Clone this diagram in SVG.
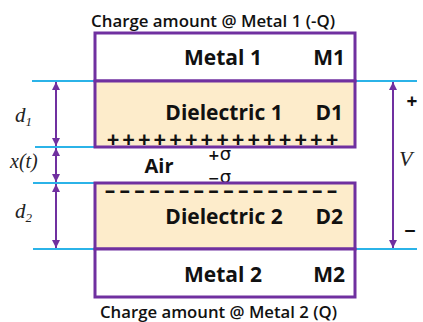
<svg xmlns="http://www.w3.org/2000/svg" width="423" height="322" viewBox="0 0 423 322">
<defs>
<style>
.lbl{font-family:"Open Sans","Liberation Sans",sans-serif;font-weight:700;fill:#111}
.cap{font-family:"Open Sans","Liberation Sans",sans-serif;font-weight:600;font-size:16px;fill:#111}
.sig{font-family:"DejaVu Sans","Noto Sans",sans-serif;font-weight:400;fill:#111}
.math{font-family:"Liberation Serif","DejaVu Serif",serif;font-style:italic;fill:#222}
.box{stroke:#7030A0;stroke-width:3}
.blue{stroke:#2BB3E8;stroke-width:2}
.arr{stroke:#7030A0;stroke-width:2;fill:none}
</style>
<marker id="ah" viewBox="0 0 10 10" refX="10" refY="5" markerWidth="4" markerHeight="4" orient="auto-start-reverse" markerUnits="strokeWidth">
<path d="M0,0 L10,5 L0,10 Z" fill="#7030A0"/>
</marker>
</defs>
<rect width="423" height="322" fill="#fff"/>
<g id="guides">
<line class="blue" x1="32" y1="81" x2="417" y2="81"/>
<line class="blue" x1="35" y1="147" x2="95" y2="147"/>
<line class="blue" x1="33" y1="183" x2="95" y2="183"/>
<line class="blue" x1="33" y1="249" x2="417" y2="249"/>
</g>
<g id="metal1">
<rect class="box" x="95" y="33" width="260" height="48" fill="#fff"/>
<text class="lbl" x="223" y="65" font-size="21" text-anchor="middle">Metal 1</text>
<text class="lbl" x="345" y="65" font-size="21" text-anchor="end">M1</text>
</g>
<g id="dielectric1">
<rect class="box" x="95" y="81" width="260" height="66" fill="#FDECCB"/>
<text class="lbl" x="224" y="120" font-size="21" text-anchor="middle">Dielectric 1</text>
<text class="lbl" x="343" y="120" font-size="21" text-anchor="end">D1</text>
<text class="lbl" font-size="22" font-weight="600" text-anchor="middle" y="146.5" x="113 128.6 144.3 159.9 175.6 191.2 206.9 222.5 238.1 253.8 269.4 285.1 300.7 316.4 332">+++++++++++++++</text>
</g>
<g id="air">
<text class="lbl" x="159" y="173" font-size="20" text-anchor="middle">Air</text>
<text class="sig" x="208" y="160"><tspan font-size="14" font-weight="700">+</tspan><tspan font-size="18">σ</tspan></text>
<text class="sig" x="208" y="182.5"><tspan font-size="14" font-weight="700">−</tspan><tspan font-size="18">σ</tspan></text>
</g>
<g id="dielectric2">
<rect class="box" x="95" y="183" width="260" height="66" fill="#FDECCB"/>
<text class="lbl" font-size="21" text-anchor="middle" y="198" x="110 124.8 139.6 154.4 169.2 184 198.8 213.6 228.4 243.2 258 272.8 287.6 302.4 317.2 332">––––––––––––––––</text>
<text class="lbl" x="224" y="224" font-size="21" text-anchor="middle">Dielectric 2</text>
<text class="lbl" x="343" y="224" font-size="21" text-anchor="end">D2</text>
</g>
<g id="metal2">
<rect class="box" x="95" y="249" width="260" height="48" fill="#fff"/>
<text class="lbl" x="223" y="282" font-size="21" text-anchor="middle">Metal 2</text>
<text class="lbl" x="345" y="282" font-size="21" text-anchor="end">M2</text>
</g>
<g id="captions">
<text class="cap" x="91" y="27" textLength="244" lengthAdjust="spacingAndGlyphs">Charge amount @ Metal 1 (-Q)</text>
<text class="cap" x="100" y="318" textLength="237" lengthAdjust="spacingAndGlyphs">Charge amount @ Metal 2 (Q)</text>
</g>
<g id="connectors">
<line class="arr" x1="56" y1="82" x2="56" y2="146" marker-start="url(#ah)" marker-end="url(#ah)"/>
<line class="arr" x1="56" y1="148" x2="56" y2="182" marker-start="url(#ah)" marker-end="url(#ah)"/>
<line class="arr" x1="56" y1="184" x2="56" y2="248" marker-start="url(#ah)" marker-end="url(#ah)"/>
<line class="arr" x1="393" y1="82" x2="393" y2="248" marker-start="url(#ah)" marker-end="url(#ah)"/>
</g>
<g id="dim-labels">
<text class="math" x="15" y="122" font-size="21">d<tspan font-size="13" dy="4">1</tspan></text>
<text class="math" x="10" y="168" font-size="20">x(t)</text>
<text class="math" x="15" y="218" font-size="21">d<tspan font-size="13" dy="4">2</tspan></text>
<text class="math" x="399" y="166" font-size="22">V</text>
<text class="lbl" x="412" y="108" font-size="19" text-anchor="middle">+</text>
<text class="lbl" x="410" y="238" font-size="20" text-anchor="middle">−</text>
</g>
</svg>
